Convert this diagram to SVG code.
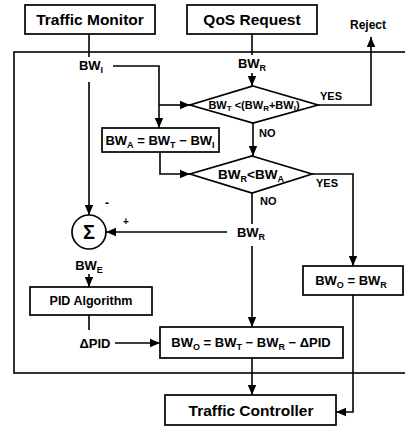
<svg xmlns="http://www.w3.org/2000/svg" width="405" height="426" viewBox="0 0 405 426">
<defs>
<marker id="arr" markerUnits="userSpaceOnUse" markerWidth="10" markerHeight="10" viewBox="0 0 10 10" refX="10" refY="5" orient="auto">
<path d="M0,0.8 L10,5 L0,9.2 Z" fill="#000"/>
</marker>
</defs>
<style>
text{font-family:"Liberation Sans",Arial,sans-serif;font-weight:bold;fill:#000;text-anchor:middle}
.box{fill:#fff;stroke:#000;stroke-width:1.7}
.ln{fill:none;stroke:#000;stroke-width:1.6}
.ar{fill:none;stroke:#000;stroke-width:1.6;marker-end:url(#arr)}
.big{font-size:15.5px}
.lbl{font-size:13px}
.sm{font-size:11px}
.l{text-anchor:start}
</style>
<rect width="405" height="426" fill="#fff"/>
<rect id="frame" x="14" y="52" width="400" height="321" class="ln"/>
<g id="connectors">
<path class="ln" d="M89,34 V57"/>
<path class="ln" d="M252,34 V55"/>
<path class="ar" d="M252,73 V86"/>
<path class="ln" d="M113,66 H159 V105"/>
<path class="ar" d="M159,105 V128"/>
<path class="ar" d="M159,105 H190"/>
<path class="ar" d="M318,105 H371 V37"/>
<path class="ar" d="M253,123 V156"/>
<path class="ar" d="M160,152 V174 H190"/>
<path class="ar" d="M312,174 H353 V266"/>
<path class="ln" d="M252,193 V224"/>
<path class="ar" d="M227,232 H106"/>
<path class="ar" d="M252,246 V327"/>
<path class="ar" d="M89,82 V215"/>
<path class="ar" d="M89,274 V287"/>
<path class="ln" d="M89,315 V330"/>
<path class="ar" d="M115,343 H160"/>
<path class="ar" d="M252,358 V395"/>
<path class="ar" d="M353,295 V412 H336"/>
</g>
<g id="traffic-monitor"><rect class="box" x="25" y="5" width="130" height="29"/><text class="big" x="90" y="25">Traffic Monitor</text></g>
<g id="qos-request"><rect class="box" x="187" y="5" width="130" height="29"/><text class="big" x="252" y="25">QoS Request</text></g>
<g id="reject"><text x="368" y="29" font-size="12">Reject</text></g>
<g id="bw-i"><text class="lbl" x="91" y="70">BW<tspan font-size="9" dy="3">I</tspan></text></g>
<g id="bw-r-top"><text class="lbl" x="252" y="68">BW<tspan font-size="9" dy="3">R</tspan></text></g>
<g id="decision-1"><polygon class="box" points="253,86 318,105 253,123 190,105"/><text class="sm" x="254" y="109">BW<tspan font-size="8" dy="2">T</tspan><tspan dy="-2"> &lt;(BW</tspan><tspan font-size="8" dy="2">R</tspan><tspan dy="-2">+BW</tspan><tspan font-size="8" dy="2">I</tspan><tspan dy="-2">)</tspan></text>
<text class="sm l" x="320" y="100">YES</text><text class="sm l" x="259" y="137">NO</text></g>
<g id="bw-a"><rect class="box" x="102" y="128" width="117" height="24"/><text class="lbl" x="160" y="145">BW<tspan font-size="9" dy="3">A</tspan><tspan dy="-3"> = BW</tspan><tspan font-size="9" dy="3">T</tspan><tspan dy="-3"> − BW</tspan><tspan font-size="9" dy="3">I</tspan></text></g>
<g id="decision-2"><polygon class="box" points="252,156 312,174 252,193 190,174"/><text x="251" y="179" font-size="13.5">BW<tspan font-size="9" dy="3">R</tspan><tspan dy="-3">&lt;BW</tspan><tspan font-size="9" dy="3">A</tspan></text>
<text class="sm l" x="316" y="187">YES</text><text class="sm l" x="260" y="205">NO</text></g>
<g id="bw-r-mid"><text class="lbl" x="251" y="237">BW<tspan font-size="9" dy="3">R</tspan></text></g>
<g id="sum"><circle class="box" cx="89" cy="232" r="17"/><text x="89" y="239" font-size="20" font-weight="normal">Σ</text>
<text x="107" y="207" font-size="12">-</text><text x="126" y="225" font-size="10">+</text></g>
<g id="bw-e"><text class="lbl" x="89" y="270">BW<tspan font-size="9" dy="3">E</tspan></text></g>
<g id="pid"><rect class="box" x="30" y="287" width="122" height="28"/><text x="91" y="305" font-size="12.5">PID Algorithm</text></g>
<g id="delta-pid"><text class="lbl" x="95" y="348">ΔPID</text></g>
<g id="bw-o-calc"><rect class="box" x="160" y="327" width="183" height="31"/><text class="lbl" x="251" y="347">BW<tspan font-size="9" dy="3">O</tspan><tspan dy="-3"> = BW</tspan><tspan font-size="9" dy="3">T</tspan><tspan dy="-3"> − BW</tspan><tspan font-size="9" dy="3">R</tspan><tspan dy="-3"> − ΔPID</tspan></text></g>
<g id="bw-o-eq"><rect class="box" x="303" y="266" width="100" height="29"/><text class="lbl" x="351" y="285">BW<tspan font-size="9" dy="3">O</tspan><tspan dy="-3"> = BW</tspan><tspan font-size="9" dy="3">R</tspan></text></g>
<g id="traffic-controller"><rect class="box" x="165" y="395" width="171" height="30"/><text class="big" x="251" y="416">Traffic Controller</text></g>
</svg>
